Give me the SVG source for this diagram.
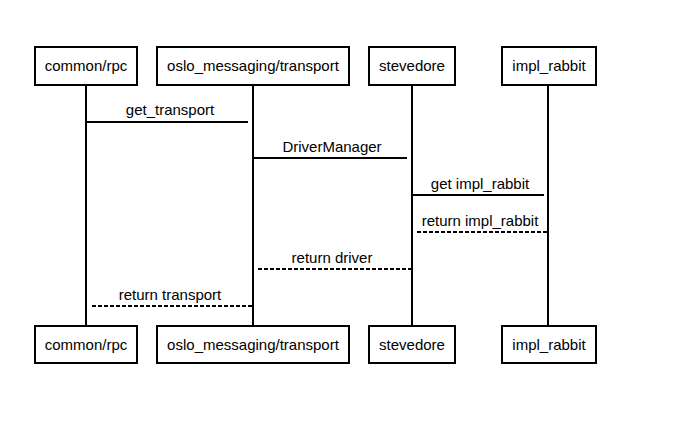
<svg xmlns="http://www.w3.org/2000/svg" width="687" height="421" viewBox="0 0 687 421">
<style>
.box{fill:#fff;stroke:#000;stroke-width:2}
.life{stroke:#000;stroke-width:2;fill:none}
.msg{stroke:#000;stroke-width:2;fill:none}
.ret{stroke:#000;stroke-width:2;fill:none;stroke-dasharray:4,2}
text{font-family:"Liberation Sans",Arial,sans-serif;font-size:15px;fill:#000;text-anchor:middle}
</style>
<rect width="687" height="421" fill="#fff"/>
<g id="lifelines">
<line class="life" x1="86" y1="85" x2="86" y2="326"/>
<line class="life" x1="253" y1="85" x2="253" y2="326"/>
<line class="life" x1="412" y1="85" x2="412" y2="326"/>
<line class="life" x1="548" y1="85" x2="548" y2="326"/>
</g>
<g id="node-common-rpc">
<rect class="box" x="35" y="47" width="102" height="38"/>
<text x="86" y="71">common/rpc</text>
<rect class="box" x="35" y="326" width="102" height="37"/>
<text x="86" y="350">common/rpc</text>
</g>
<g id="node-oslo-transport">
<rect class="box" x="157" y="47" width="192" height="38"/>
<text x="253" y="71">oslo_messaging/transport</text>
<rect class="box" x="157" y="326" width="192" height="37"/>
<text x="253" y="350">oslo_messaging/transport</text>
</g>
<g id="node-stevedore">
<rect class="box" x="369" y="47" width="86" height="38"/>
<text x="412" y="71">stevedore</text>
<rect class="box" x="369" y="326" width="86" height="37"/>
<text x="412" y="350">stevedore</text>
</g>
<g id="node-impl-rabbit">
<rect class="box" x="502" y="47" width="94" height="38"/>
<text x="549" y="71">impl_rabbit</text>
<rect class="box" x="502" y="326" width="94" height="37"/>
<text x="549" y="350">impl_rabbit</text>
</g>
<g id="connectors">
<line class="msg" x1="86" y1="122" x2="248" y2="122"/>
<text x="170" y="115">get_transport</text>
<line class="msg" x1="253" y1="158" x2="407" y2="158"/>
<text x="332" y="152">DriverManager</text>
<line class="msg" x1="412" y1="195" x2="544" y2="195"/>
<text x="480" y="189">get impl_rabbit</text>
<line class="ret" x1="417" y1="232" x2="548" y2="232"/>
<text x="480" y="226">return impl_rabbit</text>
<line class="ret" x1="258" y1="269" x2="412" y2="269"/>
<text x="332" y="263">return driver</text>
<line class="ret" x1="92" y1="306" x2="253" y2="306"/>
<text x="170" y="300">return transport</text>
</g>
</svg>
